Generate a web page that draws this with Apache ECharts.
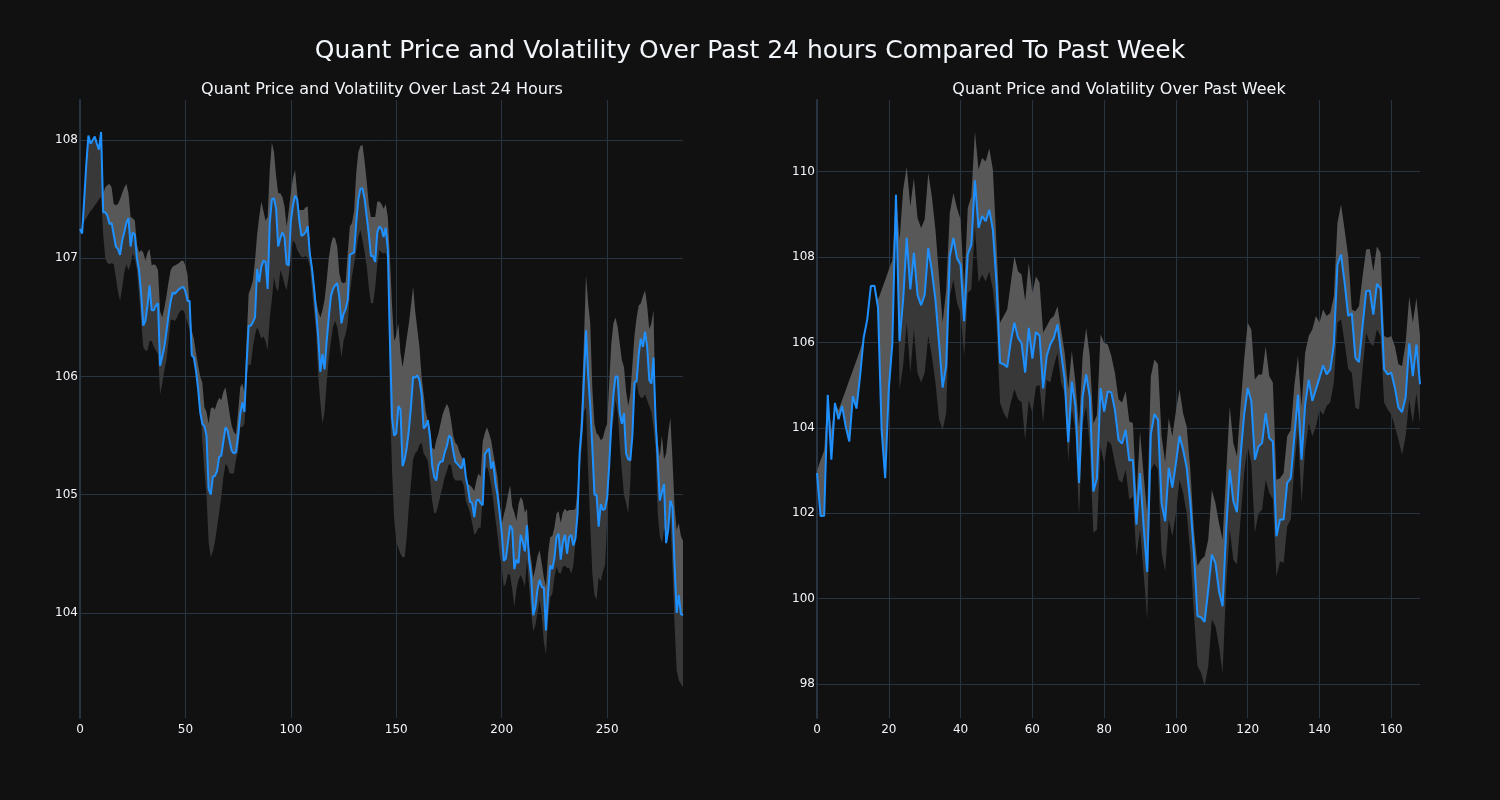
<!DOCTYPE html>
<html>
<head>
<meta charset="utf-8">
<script src="https://cdn.jsdelivr.net/npm/echarts@6/dist/echarts.min.js"></script>
<style>
html,body{margin:0;padding:0;background:#111111;}
#chart{width:1500px;height:800px;}
</style>
</head>
<body>
<div id="chart"></div>
<script>
// ---------- Last 24 hours (5-minute steps) ----------
const dayPrice = [107.25,107.21,107.5,107.8,108.04,107.97,108.0,108.03,107.97,107.92,
108.07,107.39,107.39,107.36,107.29,107.3,107.2,107.1,107.08,107.03,
107.15,107.22,107.3,107.34,107.1,107.22,107.2,107.0,106.9,106.7,
106.43,106.47,106.6,106.77,106.56,106.56,106.6,106.62,106.09,106.17,
106.25,106.38,106.52,106.64,106.71,106.7,106.72,106.74,106.75,106.76,
106.72,106.64,106.64,106.18,106.16,106.05,105.9,105.7,105.6,105.58,
105.5,105.05,105.0,105.15,105.16,105.2,105.32,105.33,105.45,105.57,
105.54,105.45,105.37,105.35,105.36,105.5,105.68,105.78,105.7,106.1,
106.43,106.43,106.46,106.5,106.91,106.8,106.93,106.98,106.97,106.74,
107.3,107.5,107.51,107.42,107.1,107.17,107.22,107.18,106.95,106.94,
107.31,107.45,107.53,107.5,107.32,107.19,107.2,107.22,107.27,107.04,
106.92,106.75,106.55,106.33,106.04,106.19,106.06,106.3,106.5,106.68,
106.74,106.77,106.79,106.67,106.45,106.53,106.57,106.65,107.03,107.04,
107.05,107.3,107.5,107.59,107.59,107.5,107.35,107.2,107.02,107.02,
106.97,107.22,107.27,107.25,107.18,107.26,107.07,106.3,105.65,105.5,
105.52,105.75,105.72,105.24,105.3,105.4,105.55,105.75,106.0,105.99,
106.01,105.97,105.85,105.56,105.58,105.63,105.49,105.25,105.15,105.12,
105.25,105.28,105.28,105.36,105.41,105.5,105.48,105.37,105.28,105.26,
105.24,105.22,105.31,105.15,105.06,104.94,104.93,104.81,104.95,104.96,
104.93,104.91,105.34,105.37,105.39,105.22,105.28,105.1,105.0,104.85,
104.68,104.44,104.46,104.6,104.74,104.71,104.37,104.45,104.42,104.66,
104.6,104.52,104.74,104.45,104.3,103.98,104.05,104.2,104.28,104.22,
104.21,103.85,104.16,104.4,104.37,104.46,104.64,104.67,104.45,104.6,
104.66,104.5,104.64,104.66,104.57,104.63,104.84,105.36,105.57,105.97,
106.39,106.02,105.75,105.4,105.0,105.0,104.73,104.92,104.87,104.88,
104.97,105.25,105.6,105.85,106.0,106.0,105.69,105.6,105.69,105.35,
105.3,105.29,105.5,105.95,105.96,106.19,106.32,106.25,106.38,106.25,
105.97,105.94,106.16,105.63,105.3,104.95,105.02,105.09,104.59,104.7,
104.95,104.9,104.4,104.0,104.15,103.99,103.98];
const dayUpper = [107.25,107.21,107.5,107.8,108.04,107.97,108.0,108.03,107.97,107.92,
108.07,107.55,107.6,107.62,107.63,107.6,107.46,107.45,107.46,107.5,
107.55,107.6,107.63,107.55,107.35,107.34,107.32,107.12,107.05,107.07,
107.05,106.98,107.05,107.08,106.94,106.95,106.94,106.9,106.55,106.5,
106.58,106.68,106.8,106.9,106.93,106.94,106.95,106.96,106.98,106.98,
106.94,106.86,106.6,106.39,106.32,106.2,106.1,106.0,105.95,105.74,
105.7,105.6,105.73,105.74,105.72,105.78,105.82,105.8,105.87,105.91,
105.8,105.68,105.58,105.53,105.51,105.7,105.91,105.94,105.86,106.3,
106.7,106.75,106.81,106.98,107.2,107.35,107.48,107.4,107.32,107.35,
107.75,107.98,107.9,107.7,107.55,107.55,107.52,107.44,107.27,107.4,
107.55,107.68,107.75,107.55,107.41,107.41,107.41,107.43,107.44,107.1,
106.95,106.8,106.64,106.55,106.5,106.56,106.65,106.81,107.0,107.12,
107.18,107.17,107.1,106.87,106.8,106.79,106.8,107.05,107.27,107.3,
107.4,107.72,107.9,107.95,107.96,107.82,107.65,107.45,107.35,107.35,
107.35,107.48,107.48,107.46,107.42,107.46,107.35,107.0,106.6,106.3,
106.35,106.45,106.2,106.08,106.2,106.33,106.45,106.6,106.76,106.55,
106.4,106.25,106.0,105.85,105.7,105.62,105.57,105.4,105.38,105.46,
105.52,105.6,105.68,105.73,105.77,105.73,105.63,105.5,105.44,105.42,
105.36,105.32,105.27,105.15,105.09,105.08,105.06,105.03,105.12,105.18,
105.15,105.45,105.52,105.57,105.52,105.46,105.35,105.25,105.15,104.95,
104.75,104.83,104.9,105.0,105.08,104.9,104.85,104.78,104.92,104.98,
104.95,104.85,104.88,104.55,104.45,104.3,104.38,104.48,104.53,104.42,
104.3,104.22,104.5,104.64,104.65,104.72,104.84,104.86,104.76,104.85,
104.88,104.86,104.87,104.87,104.87,104.88,105.04,105.46,105.8,106.3,
106.86,106.62,106.45,105.9,105.6,105.52,105.5,105.46,105.48,105.55,
105.6,105.95,106.28,106.45,106.5,106.42,106.28,106.14,106.08,105.88,
105.75,105.85,106.1,106.35,106.5,106.6,106.62,106.68,106.73,106.6,
106.4,106.45,106.56,105.7,105.45,105.32,105.5,105.3,105.35,105.52,
105.65,105.3,104.9,104.7,104.76,104.65,104.61];
const dayLower = [107.25,107.28,107.31,107.34,107.37,107.4,107.42,107.45,107.47,107.5,
107.52,107.2,107.0,106.96,106.95,106.96,106.95,106.84,106.72,106.64,
106.75,106.88,106.95,106.9,106.95,107.04,107.0,106.9,106.7,106.47,
106.25,106.22,106.22,106.3,106.3,106.25,106.22,106.19,105.85,105.94,
106.05,106.14,106.3,106.48,106.48,106.47,106.5,106.54,106.56,106.56,
106.52,106.45,106.4,106.36,106.19,106.05,105.95,105.75,105.45,105.2,
105.0,104.6,104.47,104.52,104.6,104.72,104.85,104.98,105.15,105.26,
105.24,105.18,105.18,105.18,105.3,105.37,105.57,105.57,105.6,106.0,
106.1,106.1,106.25,106.35,106.42,106.37,106.32,106.34,106.3,106.22,
106.5,106.65,106.84,106.75,106.72,106.9,106.85,106.78,106.73,106.85,
107.0,107.15,107.13,107.07,107.04,107.01,107.01,107.02,107.0,106.93,
106.75,106.55,106.38,106.0,105.78,105.6,105.7,105.95,106.15,106.3,
106.42,106.47,106.42,106.3,106.16,106.3,106.36,106.45,106.7,106.85,
106.95,107.06,107.18,107.24,107.15,107.05,106.93,106.75,106.62,106.62,
106.75,106.95,107.07,107.05,107.04,107.05,106.98,105.8,105.2,104.8,
104.6,104.55,104.5,104.47,104.47,104.65,104.9,105.1,105.3,105.35,
105.37,105.42,105.44,105.35,105.32,105.28,105.12,104.95,104.84,104.85,
104.92,105.0,105.07,105.15,105.2,105.26,105.25,105.15,105.12,105.12,
105.12,105.12,105.08,104.95,104.9,104.85,104.76,104.66,104.68,104.72,
104.72,104.98,105.2,105.24,105.18,105.08,104.95,104.8,104.66,104.5,
104.39,104.22,104.25,104.33,104.32,104.2,104.05,104.2,104.28,104.32,
104.28,104.22,104.45,104.22,104.0,103.84,103.9,104.0,104.11,103.98,
103.75,103.65,103.95,104.13,104.16,104.3,104.39,104.34,104.33,104.39,
104.4,104.38,104.38,104.33,104.4,104.6,105.0,105.2,105.4,105.7,
105.74,105.2,104.75,104.33,104.15,104.11,104.3,104.27,104.35,104.4,
104.75,105.2,105.5,105.63,105.8,105.7,105.42,105.2,105.0,104.93,
104.84,105.1,105.6,105.85,105.95,105.85,105.82,105.82,105.85,105.8,
105.75,105.7,105.57,105.4,104.84,104.65,104.59,104.7,104.72,104.74,
104.8,104.39,103.9,103.51,103.43,103.4,103.37];

// ---------- Past week (hourly steps) ----------
const weekPrice = [102.94,101.93,101.94,104.77,103.25,104.58,104.2,104.51,104.03,103.68,
104.74,104.45,105.21,106.11,106.54,107.32,107.33,106.81,103.95,102.82,
104.9,105.99,109.46,106.03,107.0,108.45,107.24,108.1,107.12,106.87,
107.12,108.21,107.67,107.0,105.99,104.94,105.45,108.02,108.45,107.98,
107.82,106.5,108.06,108.29,109.8,108.68,108.96,108.84,109.11,108.64,
107.4,105.52,105.49,105.42,106.03,106.46,106.11,105.98,105.29,106.34,
105.62,106.24,106.16,104.92,105.68,105.95,106.11,106.42,105.76,105.14,
103.66,105.08,104.5,102.71,104.73,105.25,104.73,102.51,102.82,104.93,
104.38,104.85,104.83,104.42,103.72,103.63,103.95,103.23,103.25,101.73,
102.94,101.69,100.62,103.84,104.32,104.19,102.24,101.81,103.06,102.6,
103.17,103.81,103.49,103.06,102.24,101.07,99.59,99.56,99.45,100.21,
101.03,100.83,100.17,99.82,101.61,103.02,102.28,102.02,103.33,104.3,
104.93,104.62,103.25,103.56,103.64,104.34,103.76,103.68,101.46,101.85,
101.85,102.71,102.82,103.8,104.77,103.25,104.54,105.13,104.63,104.9,
105.17,105.46,105.25,105.37,105.95,107.82,108.06,107.4,106.62,106.68,
105.64,105.54,106.38,107.2,107.22,106.65,107.37,107.26,105.37,105.25,
105.29,104.94,104.47,104.37,104.71,105.98,105.21,105.95,105.02];
const weekUpper = [103.0,103.24,103.47,104.77,103.94,104.58,104.41,104.65,104.88,105.12,
105.35,105.58,105.82,106.11,106.54,107.32,107.33,107.0,107.23,107.46,
107.7,107.93,109.46,108.4,109.58,110.11,109.19,109.85,108.92,108.68,
108.88,109.97,109.42,108.64,107.55,106.46,107.24,109.03,109.5,109.15,
108.88,107.24,109.15,109.42,110.94,110.05,110.32,110.24,110.55,110.05,
108.33,106.46,106.62,106.77,107.4,108.02,107.67,107.59,106.97,107.86,
107.16,107.55,107.4,106.23,106.38,106.54,106.62,106.85,106.3,105.76,
104.9,105.8,105.06,104.0,105.68,106.34,105.68,104.1,104.3,106.19,
105.99,105.95,105.68,105.29,104.67,104.59,104.86,104.15,104.11,102.39,
103.91,102.9,102.0,105.2,105.6,105.49,103.8,103.2,104.23,103.8,
104.4,104.9,104.34,104.03,103.02,101.61,100.76,100.91,100.99,101.38,
102.55,102.24,101.77,101.38,102.94,104.5,103.64,103.33,104.5,105.6,
106.46,106.3,105.13,105.25,105.25,105.91,105.21,105.06,102.78,102.82,
102.94,103.8,103.95,105.0,105.68,104.5,105.76,106.15,106.3,106.62,
106.46,106.77,106.62,106.69,107.08,108.8,109.23,108.64,108.02,106.77,
106.73,106.85,107.55,108.18,108.19,107.67,108.25,108.1,106.15,106.11,
106.15,105.91,105.49,105.45,105.99,107.07,106.46,107.04,106.15];
const weekLower = [102.94,101.93,101.94,104.77,103.25,104.58,104.2,104.51,104.03,103.68,
104.74,104.45,105.21,106.11,106.54,107.32,107.33,106.81,103.95,102.82,
104.9,105.99,109.46,104.9,105.45,106.46,105.29,106.3,105.29,105.06,
105.29,106.15,105.68,105.06,104.2,103.95,104.34,107.08,107.47,106.93,
106.69,105.68,107.16,107.24,108.72,107.4,107.59,107.43,107.67,107.24,
106.46,104.59,104.35,104.2,104.59,104.9,104.67,104.6,103.72,104.65,
104.34,104.97,105.0,104.11,105.12,105.06,105.45,105.76,105.06,104.81,
103.21,104.42,103.95,101.93,104.11,104.5,103.56,101.54,101.61,103.56,
103.17,103.7,103.6,103.17,102.78,102.71,103.02,102.32,102.39,100.99,
101.61,100.6,99.51,103.0,103.17,103.02,101.07,100.64,101.85,101.46,
102.0,102.78,102.47,102.0,101.07,99.66,98.42,98.26,97.95,98.42,
99.51,99.35,98.89,98.26,100.29,101.61,100.91,100.8,101.85,102.94,
103.56,103.17,101.54,102.0,102.08,102.78,102.47,102.32,100.52,100.87,
100.83,101.69,101.85,103.1,103.95,102.24,103.49,104.11,103.8,104.03,
104.43,104.3,104.51,104.6,105.06,106.46,106.54,105.99,105.37,105.29,
104.47,104.43,105.37,106.23,105.99,105.91,106.3,106.15,104.59,104.43,
104.31,104.03,103.72,103.37,103.8,104.65,104.11,104.81,104.11];

const mainTitle = 'Quant Price and Volatility Over Past 24 hours Compared To Past Week';
const leftTitle = 'Quant Price and Volatility Over Last 24 Hours';
const rightTitle = 'Quant Price and Volatility Over Past Week';

const FONT = 'DejaVu Sans';
const TXT = '#f2f5fa';
const GRID = '#283442';
const LINE = '#1e90ff';
const LIGHT = '#585858';
const DARK = '#383838';

function pairs(arr){ return arr.map((v,i)=>[i,v]); }

function bandSeries(idx, price, upper, lower){
  return {
    type:'custom', xAxisIndex:idx, yAxisIndex:idx, clip:true, silent:true, z:1,
    data:[[0, price[0]]],
    renderItem:function(params, api){
      const P = price.map((v,i)=>api.coord([i,v]));
      const U = upper.map((v,i)=>api.coord([i,v])).reverse();
      const L = lower.map((v,i)=>api.coord([i,v])).reverse();
      return {type:'group', children:[
        {type:'polygon', shape:{points:P.concat(L)}, style:{fill:DARK, stroke:null}},
        {type:'polygon', shape:{points:P.concat(U)}, style:{fill:LIGHT, stroke:null}}
      ]};
    }
  };
}
function priceSeries(idx, price){
  return {type:'line', xAxisIndex:idx, yAxisIndex:idx, data:pairs(price),
    symbol:'none', lineStyle:{width:2, color:LINE}, itemStyle:{color:LINE}, z:3};
}

function xAx(idx, max, step, split){
  return {type:'value', gridIndex:idx, min:0, max:max, splitNumber:split, minInterval:step, maxInterval:step,
    axisLine:{show:false}, axisTick:{show:false},
    axisLabel:{color:TXT, fontFamily:FONT, fontSize:12, margin:6, showMaxLabel:false},
    splitLine:{show:true, showMinLine:false, showMaxLine:false, lineStyle:{color:GRID, width:1}}};
}
function yAx(idx, min, max, step, split){
  return {type:'value', gridIndex:idx, min:min, max:max, splitNumber:split, minInterval:step, maxInterval:step,
    axisLine:{show:true, onZero:false, lineStyle:{color:GRID, width:2}}, axisTick:{show:false},
    axisLabel:{color:TXT, fontFamily:FONT, fontSize:12, margin:2, showMinLabel:false, showMaxLabel:false},
    splitLine:{show:true, showMinLine:false, showMaxLine:false, lineStyle:{color:GRID, width:1}}};
}

const chart = echarts.init(document.getElementById('chart'), null, {renderer:'canvas'});
chart.setOption({
  backgroundColor:'#111111',
  animation:false,
  title:[
    {text:mainTitle, left:'center', top:34, textStyle:{color:TXT, fontFamily:FONT, fontSize:25, fontWeight:'normal'}},
    {text:leftTitle, left:377, top:77, textAlign:'center', textStyle:{color:TXT, fontFamily:FONT, fontSize:16, fontWeight:'normal'}},
    {text:rightTitle, left:1114, top:77, textAlign:'center', textStyle:{color:TXT, fontFamily:FONT, fontSize:16, fontWeight:'normal'}}
  ],
  grid:[
    {left:80, top:100, width:603, height:618},
    {left:817, top:100, width:603, height:618}
  ],
  xAxis:[ xAx(0, 286, 50, 6), xAx(1, 168, 20, 8) ],
  yAxis:[ yAx(0, 103.11, 108.34, 1, 5), yAx(1, 97.2, 111.68, 2, 7) ],
  series:[bandSeries(0, dayPrice, dayUpper, dayLower), priceSeries(0, dayPrice),
          bandSeries(1, weekPrice, weekUpper, weekLower), priceSeries(1, weekPrice)]
});
</script>
</body>
</html>
